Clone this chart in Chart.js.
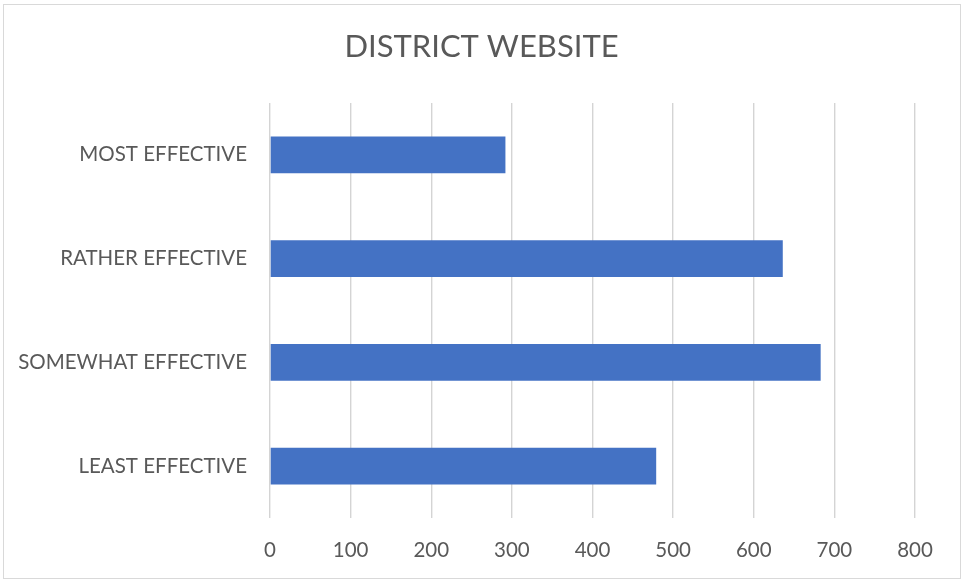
<!DOCTYPE html>
<html>
<head>
<meta charset="utf-8">
<script src="https://cdn.jsdelivr.net/npm/chart.js@4/dist/chart.umd.min.js"></script>
<style>
  html, body { margin: 0; padding: 0; background: #ffffff; }
  #wrap { position: relative; width: 963px; height: 580px; }
  #frame { position: absolute; left: 3px; top: 4px; width: 956px; height: 573px; border: 1px solid #d9d9d9; pointer-events: none; }
  canvas { position: absolute; left: 0; top: 0; }
</style>
</head>
<body>
<div id="wrap">
  <div id="frame"></div>
  <canvas id="c" width="963" height="580"></canvas>
</div>
<script>
const chartTitle = 'DISTRICT WEBSITE';
const categories = ['MOST EFFECTIVE', 'RATHER EFFECTIVE', 'SOMEWHAT EFFECTIVE', 'LEAST EFFECTIVE'];
const values = [292, 636, 683, 479];
const axisMin = 0;
const axisMax = 800;
const axisStep = 100;

const textColor = '#595959';
const fontFamily = 'Lato, "Open Sans", "Liberation Sans", sans-serif';

const centerTitle = {
  id: 'centerTitle',
  afterLayout(chart) {
    const t = chart.titleBlock;
    if (t) { t.left = 0; t.right = chart.width; t.width = chart.width; }
  }
};

new Chart(document.getElementById('c'), {
  type: 'bar',
  data: {
    labels: categories,
    datasets: [{
      data: values,
      backgroundColor: '#4472C4',
      borderWidth: 0,
      categoryPercentage: 1,
      barPercentage: 0.355
    }]
  },
  plugins: [centerTitle],
  options: {
    indexAxis: 'y',
    responsive: false,
    animation: false,
    layout: { padding: { top: 28, right: 48, bottom: 0, left: 0 } },
    plugins: {
      legend: { display: false },
      tooltip: { enabled: false },
      title: {
        display: true,
        text: chartTitle,
        color: textColor,
        font: { family: fontFamily, size: 31, weight: 'normal', lineHeight: 1.2 },
        padding: { top: 0, bottom: 37.8 }
      }
    },
    scales: {
      x: {
        min: axisMin,
        max: axisMax,
        ticks: { stepSize: axisStep, color: textColor, padding: 20, font: { family: fontFamily, size: 20.5 } },
        grid: { color: '#d4d4d4', lineWidth: 1.4, drawTicks: false },
        border: { display: false },
        afterFit: (s) => { s.height = 62; }
      },
      y: {
        ticks: { color: textColor, padding: 23, font: { family: fontFamily, size: 20.5 } },
        grid: { display: false, drawTicks: false },
        border: { display: false },
        afterFit: (s) => { s.width = 270; }
      }
    }
  }
});
</script>
</body>
</html>
